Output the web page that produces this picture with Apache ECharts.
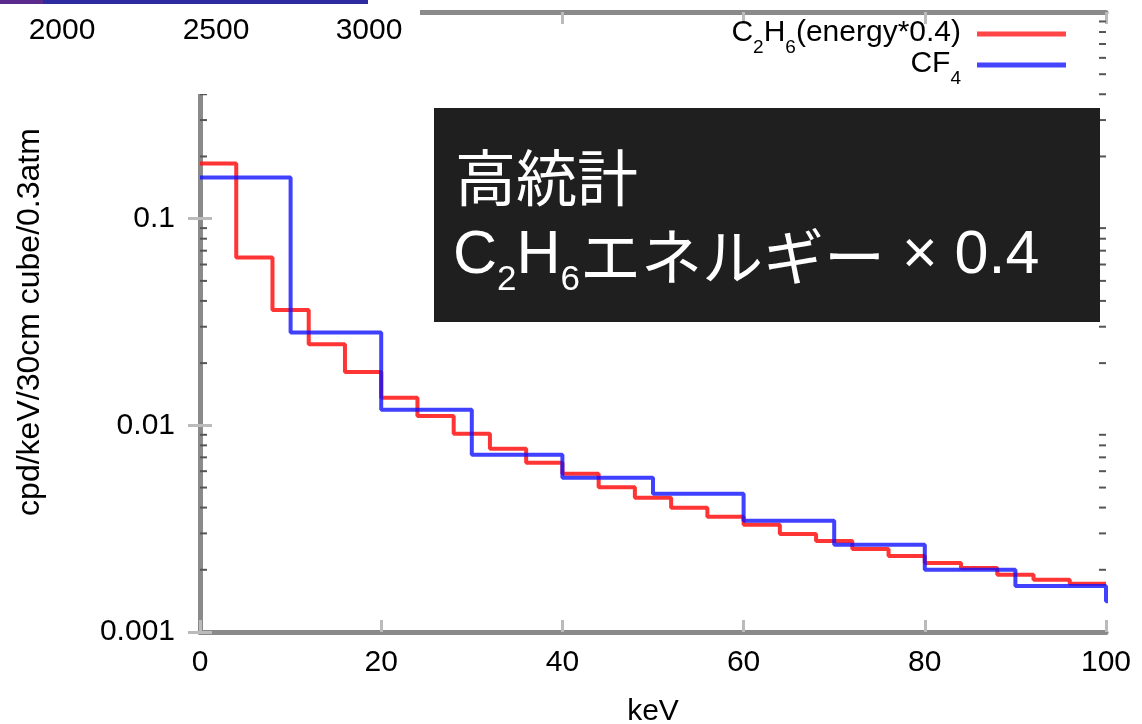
<!DOCTYPE html>
<html>
<head>
<meta charset="utf-8">
<script src="https://cdn.jsdelivr.net/npm/echarts@6/dist/echarts.min.js"></script>
<style>
html,body{margin:0;padding:0;background:#fff;}
#chart{width:1142px;height:724px;}
</style>
</head>
<body>
<div id="chart"></div>
<script>
// ---- data ----
const c2h6Edges = [0,4,8,12,16,20,24,28,32,36,40,44,48,52,56,60,64,68,72,76,80,84,88,92,96,100];
const c2h6Values = [0.185,0.0649,0.0361,0.0247,0.0181,0.0136,0.0111,0.0091,0.0077,0.0066,0.00583,0.00501,0.00446,0.00399,0.00361,0.00330,0.00298,0.00276,0.00252,0.00233,0.00216,0.00204,0.00189,0.00179,0.00171];
const cf4Edges = [0,10,20,30,40,50,60,70,80,90,100,110];
const cf4Values = [0.158,0.0281,0.0119,0.00721,0.00557,0.00467,0.00345,0.00264,0.00200,0.00167,0.00141];
const xTicks = [0,20,40,60,80,100];
const yMinorTicks = [0.002,0.003,0.004,0.005,0.006,0.007,0.008,0.009,0.02,0.03,0.04,0.05,0.06,0.07,0.08,0.09,0.2,0.3,0.4,0.5,0.6,0.7,0.8,0.9];
const seriesNames = ['C2H6(energy*0.4)', 'CF4'];
const otherPlotTickLabels = ['2000','2500','3000'];
const boxLine1 = '高統計';
const xName = 'keV';
const yName = 'cpd/keV/30cm cube/0.3atm';

function stepData(edges, values){
  const d = values.map((v,i)=>[edges[i], v]);
  d.push([edges[values.length], values[values.length-1]]);
  return d;
}

const FONT = 'Liberation Sans, Arial, sans-serif';
const CJK = 'Noto Sans CJK JP, sans-serif';
const chart = echarts.init(document.getElementById('chart'), null, {renderer:'canvas'});

const legendRich = {
  n:{fontSize:30, fontFamily:FONT, color:'#000', lineHeight:32, verticalAlign:'top'},
  e:{fontSize:30, fontFamily:FONT, color:'#000', lineHeight:32, verticalAlign:'top', padding:[0,11,0,0]},
  s:{fontSize:19, fontFamily:FONT, color:'#000', lineHeight:20, verticalAlign:'top', padding:[20,0,0,0]},
  se:{fontSize:19, fontFamily:FONT, color:'#000', lineHeight:20, verticalAlign:'top', padding:[20,11,0,0]}
};

function legendCfg(name, top){
  return {
    data:[name], right:71, top:top, align:'right', orient:'vertical',
    icon:'rect', itemWidth:89, itemHeight:5,
    formatter: function(n){
      if(n === seriesNames[0]) return '{n|C}{s|2}{n|H}{s|6}{e|(energy*0.4)}';
      return '{n|CF}{se|4}';
    },
    textStyle:{rich:legendRich, fontFamily:FONT, fontSize:30}
  };
}

const option = {
  backgroundColor:'#ffffff',
  animation:false,
  grid:{left:200, right:36, top:12, bottom:92, containLabel:false, outerBoundsMode:'none'},
  legend:[legendCfg(seriesNames[0], 13), legendCfg(seriesNames[1], 44)],
  xAxis:[{
    type:'value', min:0, max:100, interval:20, position:'bottom',
    name:xName, nameLocation:'middle', nameGap:65,
    nameTextStyle:{fontSize:30, fontFamily:FONT, color:'#000'},
    axisLine:{show:true, lineStyle:{color:'#8a8a8a', width:5}},
    axisTick:{show:true, inside:true, length:12, lineStyle:{color:'#bbbbbb', width:3}},
    axisLabel:{fontSize:30, fontFamily:FONT, color:'#000', margin:16},
    splitLine:{show:false}
  },{
    type:'value', min:0, max:100, interval:20, position:'top',
    axisLine:{show:true, lineStyle:{color:'#8a8a8a', width:5}},
    axisTick:{show:true, inside:true, length:12, lineStyle:{color:'#bbbbbb', width:3}},
    axisLabel:{show:false}, splitLine:{show:false}
  }],
  yAxis:[{
    type:'log', min:0.001, max:1, logBase:10, position:'left',
    name:yName, nameLocation:'middle', nameGap:154,
    nameTextStyle:{fontSize:32, fontFamily:FONT, color:'#000'},
    axisLine:{show:true, lineStyle:{color:'#8a8a8a', width:5}},
    axisTick:{show:true, inside:true, length:12, lineStyle:{color:'#bbbbbb', width:3}},
    axisLabel:{fontSize:30, fontFamily:FONT, color:'#000', margin:25,
      formatter:function(v){ return v >= 0.5 ? '' : String(+(+v).toPrecision(1)); }},
    splitLine:{show:false}
  },{
    type:'log', min:0.001, max:1, logBase:10, position:'right',
    axisLine:{show:true, lineStyle:{color:'#8a8a8a', width:5}},
    axisTick:{show:true, inside:true, length:12, lineStyle:{color:'#bbbbbb', width:3}},
    axisLabel:{show:false}, splitLine:{show:false}
  }],
  series:[
    {
      name:seriesNames[0], type:'line', step:'end', showSymbol:false, symbol:'none',
      data:stepData(c2h6Edges, c2h6Values),
      color:'#ff4545',
      lineStyle:{color:'#ff1010', width:4, opacity:0.85},
      itemStyle:{color:'#ff4545'},
      z:3
    },
    {
      name:seriesNames[1], type:'line', step:'end', showSymbol:false, symbol:'none',
      data:stepData(cf4Edges, cf4Values),
      color:'#4545ff',
      lineStyle:{color:'#1010ff', width:4, opacity:0.8},
      itemStyle:{color:'#4545ff'},
      z:4
    },
    {
      type:'custom', silent:true, clip:false, z:5,
      data:yMinorTicks.map(v=>[0, v]),
      encode:{x:0, y:1},
      renderItem:function(params, api){
        const v = api.value(1);
        const l = api.coord([0, v]);
        const r = api.coord([100, v]);
        return {type:'group', children:[
          {type:'line', shape:{x1:l[0], y1:l[1], x2:l[0]+7, y2:l[1]}, style:{stroke:'#555', lineWidth:2}},
          {type:'line', shape:{x1:r[0]-7, y1:r[1], x2:r[0], y2:r[1]}, style:{stroke:'#555', lineWidth:2}}
        ]};
      }
    }
  ],
  graphic:[
    // white patch from an overlapping neighbouring figure
    {type:'rect', z:100, shape:{x:0, y:0, width:420, height:94}, style:{fill:'#ffffff'}},
    {type:'rect', z:101, shape:{x:0, y:0, width:368, height:4}, style:{fill:'#2c2ca0'}},
    {type:'rect', z:102, shape:{x:0, y:0, width:43, height:4}, style:{fill:'#5a2a8c'}},
    {type:'group', z:103, children:[5,68,129,192,253,315].map(x=>({type:'rect', shape:{x:x, y:0, width:10, height:7}, style:{fill:'#1010f0'}}))},
    {type:'text', z:104, x:62, y:31, style:{text:otherPlotTickLabels[0], fontSize:30, fontFamily:FONT, fill:'#000', align:'center', verticalAlign:'middle'}},
    {type:'text', z:104, x:216, y:31, style:{text:otherPlotTickLabels[1], fontSize:30, fontFamily:FONT, fill:'#000', align:'center', verticalAlign:'middle'}},
    {type:'text', z:104, x:369, y:31, style:{text:otherPlotTickLabels[2], fontSize:30, fontFamily:FONT, fill:'#000', align:'center', verticalAlign:'middle'}},
    // dark annotation box
    {type:'rect', z:110, shape:{x:434, y:108, width:666, height:214}, style:{fill:'#1f1f1f'}},
    {type:'text', z:111, x:455, y:178, style:{text:boxLine1, fontSize:61, fontFamily:CJK, fill:'#ffffff', align:'left', verticalAlign:'middle'}},
    {type:'text', z:111, x:453, y:226, style:{
      text:'{n|C}{s|2}{n|H}{s|6}{j|エネルギー}{n| × 0.4}',
      align:'left', verticalAlign:'top', fill:'#ffffff',
      rich:{
        n:{fontSize:61, fontFamily:FONT, fill:'#fff', color:'#fff', lineHeight:70, verticalAlign:'top'},
        j:{fontSize:61, fontFamily:CJK, fill:'#fff', color:'#fff', lineHeight:70, verticalAlign:'top'},
        s:{fontSize:35, fontFamily:FONT, fill:'#fff', color:'#fff', lineHeight:36, verticalAlign:'top', padding:[37,0,0,0]}
      }
    }}
  ]
};
chart.setOption(option);
</script>
</body>
</html>
